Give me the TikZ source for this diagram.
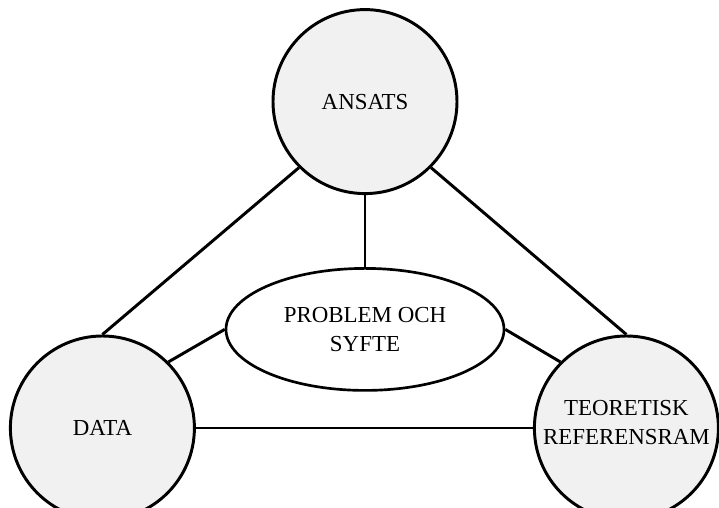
\documentclass[tikz,border=0pt]{standalone}
\usepackage{fontspec}
\setmainfont{Liberation Serif}
\usetikzlibrary{positioning,shapes.geometric}
\definecolor{topicgray}{HTML}{F1F1F1}
\tikzset{
  topic/.style={circle, minimum size = 4.6cm, inner sep = 0pt, line width = 2.1pt, draw = black, fill = topicgray, align = center, font = \fontsize{16.3}{20.5}\selectfont},
  aim/.style={ellipse, minimum width = 6.95cm, minimum height = 3.05cm, inner sep = 0pt, line width = 1.9pt, draw = black, fill = white, align = center, font = \fontsize{16.3}{20.5}\selectfont},
  connect/.style={line width = 2.1pt}
}

\begin{document}
\begin{tikzpicture}
  \clip (0,0) rectangle (17.975,12.7);
  \useasboundingbox (0,0) rectangle (17.975,12.7);

  % the three corners
  \node[topic] (ansats) at (9.125,10.16) {ANSATS};
  \node[topic] (data) at (2.56,2.0) {DATA};
  \node[topic, text depth = 0.28cm] (teori) at (15.66,2.0) {TEORETISK\\REFERENSRAM};

  % the centre
  \node[aim] (problem) [below=1.8cm of ansats] {PROBLEM OCH\\SYFTE};

  % outer triangle
  \path (ansats.225) edge [connect] (data.north);
  \path (ansats.-45) edge [connect] (teori.north);
  \path (data.east) edge [connect] (teori.west);

  % spokes to the centre
  \path (ansats.south) edge [connect] (problem.north);
  \path (problem.west) edge [connect] (data.45);
  \path (problem.east) edge [connect] (teori.135);
\end{tikzpicture}
\end{document}
